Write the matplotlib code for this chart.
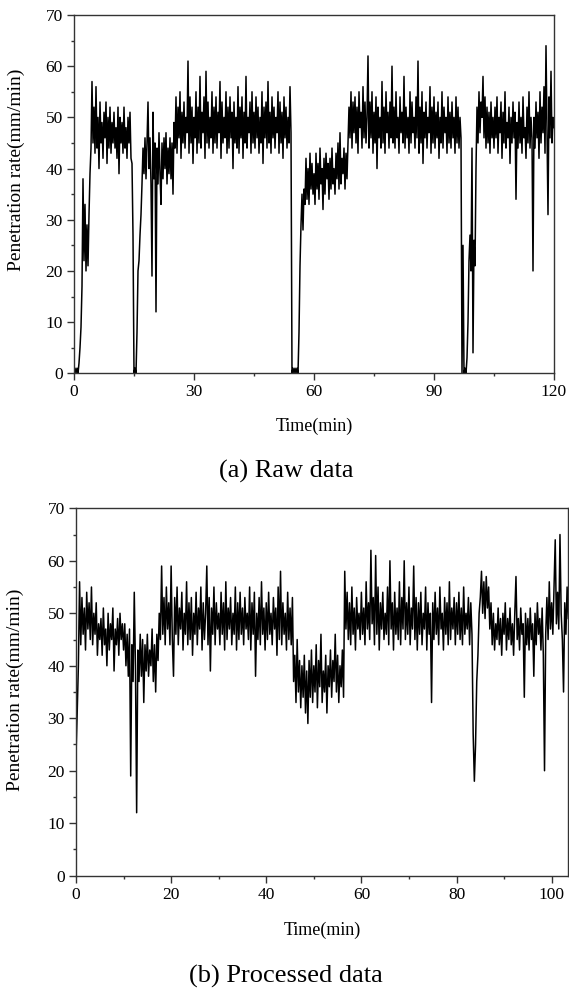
import matplotlib
matplotlib.use("Agg")
import matplotlib.pyplot as plt
import numpy as np
from matplotlib.ticker import MultipleLocator

# sampling step (min), 4 samples per minute
step = 0.25

# (a) raw penetration rate, mm/min, one row = 5 minutes
raw_rate = [
    0, 1, 0, 1, 0, 2, 5, 9, 17, 38, 22, 33, 20, 29, 21, 31, 39, 44, 57, 45,
    52, 43, 56, 44, 50, 40, 53, 45, 49, 42, 51, 46, 53, 41, 50, 44, 52, 43, 49, 45,
    51, 44, 48, 42, 52, 39, 50, 45, 49, 43, 52, 44, 48, 42, 50, 45, 51, 42, 41, 27,
    0, 1, 0, 8, 20, 22, 27, 31, 37, 44, 39, 46, 38, 45, 53, 40, 46, 37, 19, 51,
    38, 45, 12, 44, 37, 47, 39, 33, 45, 38, 46, 40, 47, 37, 44, 39, 46, 38, 45, 35,
    49, 44, 54, 43, 52, 46, 55, 42, 51, 45, 53, 44, 50, 47, 61, 43, 54, 45, 52, 41,
    50, 46, 55, 43, 52, 45, 58, 44, 51, 47, 54, 42, 59, 45, 53, 44, 50, 46, 55, 43,
    52, 45, 54, 44, 51, 47, 57, 42, 53, 45, 50, 46, 55, 43, 52, 44, 54, 46, 51, 40,
    53, 45, 50, 44, 56, 43, 52, 46, 54, 42, 51, 45, 58, 44, 50, 47, 53, 43, 55, 45,
    51, 44, 54, 46, 52, 43, 50, 45, 55, 41, 52, 46, 53, 44, 57, 45, 51, 43, 54, 46,
    52, 44, 50, 47, 55, 43, 53, 45, 51, 42, 54, 46, 52, 44, 50, 45, 56, 47, 0, 1,
    0, 1, 0, 1, 0, 8, 21, 29, 35, 28, 36, 33, 42, 34, 40, 33, 43, 36, 41, 35,
    39, 33, 43, 36, 41, 34, 44, 37, 40, 32, 42, 35, 43, 38, 41, 34, 42, 36, 44, 37,
    40, 35, 43, 38, 45, 36, 47, 37, 42, 39, 44, 36, 43, 38, 45, 52, 46, 55, 44, 53,
    47, 54, 45, 52, 43, 55, 48, 51, 44, 56, 46, 53, 45, 50, 62, 44, 53, 46, 55, 43,
    51, 45, 54, 40, 52, 46, 50, 44, 57, 45, 52, 43, 55, 47, 51, 44, 53, 46, 60, 45,
    52, 44, 55, 46, 50, 43, 54, 47, 51, 45, 58, 44, 52, 46, 50, 43, 55, 45, 53, 47,
    50, 44, 54, 46, 61, 43, 52, 45, 55, 41, 51, 46, 53, 44, 50, 47, 56, 43, 52, 45,
    54, 44, 51, 46, 53, 42, 50, 45, 55, 44, 52, 47, 50, 43, 54, 45, 51, 44, 53, 46,
    50, 43, 54, 45, 52, 44, 50, 46, 0, 25, 0, 1, 0, 3, 10, 22, 27, 20, 44, 4,
    26, 21, 40, 52, 45, 55, 47, 53, 50, 58, 46, 54, 44, 52, 45, 51, 43, 53, 46, 50,
    44, 52, 46, 54, 43, 50, 47, 53, 42, 51, 45, 55, 44, 49, 46, 52, 41, 50, 45, 53,
    46, 51, 34, 49, 44, 53, 45, 50, 43, 54, 46, 48, 42, 52, 45, 55, 44, 50, 46, 20,
    50, 44, 53, 46, 51, 42, 55, 45, 52, 47, 56, 43, 64, 48, 31, 54, 46, 59, 45, 50,
    48,
]

# (b) processed penetration rate, mm/min, one row = 5 minutes
proc_rate = [
    23, 31, 40, 56, 44, 53, 46, 51, 43, 54, 47, 52, 45, 55, 44, 50, 46, 52, 42, 48,
    45, 49, 42, 51, 44, 47, 40, 50, 43, 48, 45, 51, 39, 47, 44, 49, 42, 50, 45, 48,
    43, 48, 40, 46, 38, 47, 19, 44, 37, 54, 40, 12, 43, 37, 46, 38, 45, 33, 44, 39,
    46, 38, 43, 40, 47, 37, 44, 35, 46, 41, 50, 45, 59, 46, 53, 44, 55, 47, 52, 44,
    59, 45, 38, 53, 46, 55, 44, 51, 47, 54, 43, 50, 46, 56, 44, 52, 45, 53, 42, 50,
    46, 54, 44, 51, 47, 55, 43, 52, 45, 50, 59, 44, 53, 39, 51, 46, 55, 44, 52, 47,
    50, 44, 54, 46, 52, 43, 56, 45, 51, 47, 53, 44, 50, 46, 55, 43, 52, 45, 54, 46,
    51, 44, 53, 47, 50, 45, 55, 43, 52, 46, 54, 38, 50, 45, 53, 44, 56, 46, 51, 43,
    52, 45, 54, 46, 50, 44, 53, 47, 51, 42, 55, 45, 58, 44, 52, 46, 50, 43, 54, 45,
    51, 44, 53, 37, 42, 33, 45, 35, 41, 32, 40, 34, 42, 31, 39, 29, 41, 34, 43, 33,
    40, 35, 44, 32, 41, 36, 46, 33, 39, 35, 42, 31, 40, 36, 43, 34, 41, 37, 46, 35,
    42, 33, 40, 36, 43, 34, 58, 47, 54, 45, 52, 44, 55, 46, 51, 43, 53, 47, 50, 45,
    54, 46, 51, 44, 56, 47, 52, 45, 62, 48, 53, 44, 61, 46, 55, 43, 52, 47, 54, 45,
    50, 46, 55, 44, 60, 47, 52, 43, 54, 46, 51, 45, 56, 44, 53, 47, 60, 45, 52, 46,
    55, 44, 51, 47, 59, 45, 53, 43, 52, 46, 54, 44, 50, 47, 55, 43, 52, 46, 50, 33,
    52, 45, 54, 46, 51, 44, 55, 47, 50, 43, 53, 46, 52, 44, 56, 45, 51, 47, 53, 44,
    52, 46, 54, 45, 51, 44, 55, 46, 50, 47, 53, 44, 52, 46, 27, 18, 25, 37, 42, 50,
    53, 58, 50, 56, 49, 57, 51, 55, 47, 52, 44, 50, 43, 48, 45, 51, 44, 49, 42, 50,
    46, 52, 43, 49, 45, 51, 44, 48, 42, 50, 57, 45, 49, 43, 51, 46, 48, 34, 50, 44,
    49, 43, 51, 45, 48, 38, 50, 44, 52, 46, 49, 43, 51, 42, 20, 46, 53, 45, 56, 47,
    52, 46, 55, 64, 48, 54, 47, 65, 50, 45, 35, 52, 46, 55, 49,
]

plt.rcParams['font.family'] = ['Liberation Serif', 'DejaVu Serif']

fig = plt.figure(figsize=(5.69, 9.89), dpi=100)
W, H = 569.0, 989.0

def style_axes(ax, xmax, xmajor):
    ax.set_xlim(0, xmax)
    ax.set_ylim(0, 70)
    ax.xaxis.set_major_locator(MultipleLocator(xmajor))
    ax.xaxis.set_minor_locator(MultipleLocator(xmajor / 2))
    ax.yaxis.set_major_locator(MultipleLocator(10))
    ax.yaxis.set_minor_locator(MultipleLocator(5))
    ax.tick_params(which='major', direction='out', length=5, width=1, labelsize=12.5, pad=3, color='#333333')
    ax.tick_params(which='minor', direction='out', length=2.5, width=1, color='#333333')
    for s in ax.spines.values():
        s.set_linewidth(1.0)
        s.set_color('#333333')

# (a) raw data
ax1 = fig.add_axes([74 / W, 1 - 373.3 / H, 480 / W, 358.3 / H])
t_raw = np.arange(len(raw_rate)) * step
ax1.plot(t_raw, raw_rate, color='black', lw=1.1)
style_axes(ax1, 120, 30)
ax1.set_xlabel('Time(min)', fontsize=13)
ax1.xaxis.set_label_coords(0.5, -0.125)
fig.text(16.5 / W, 1 - 170 / H, 'Penetration rate(mm/min)', fontsize=14,
         rotation=90, ha='center', va='center')
fig.text(286 / W, 1 - 471.7 / H, '(a) Raw data', fontsize=19, ha='center', va='center')

# (b) processed data
ax2 = fig.add_axes([76 / W, 1 - 875.7 / H, 492.3 / W, 367.4 / H])
t_proc = np.arange(len(proc_rate)) * step
ax2.plot(t_proc, proc_rate, color='black', lw=1.1)
style_axes(ax2, 103.5, 20)
ax2.set_xlabel('Time(min)', fontsize=13)
ax2.xaxis.set_label_coords(0.5, -0.125)
fig.text(15.7 / W, 1 - 690 / H, 'Penetration rate(mm/min)', fontsize=14,
         rotation=90, ha='center', va='center')
fig.text(285.8 / W, 1 - 976.7 / H, '(b) Processed data', fontsize=19, ha='center', va='center')

fig.savefig('out.png', dpi=100)
